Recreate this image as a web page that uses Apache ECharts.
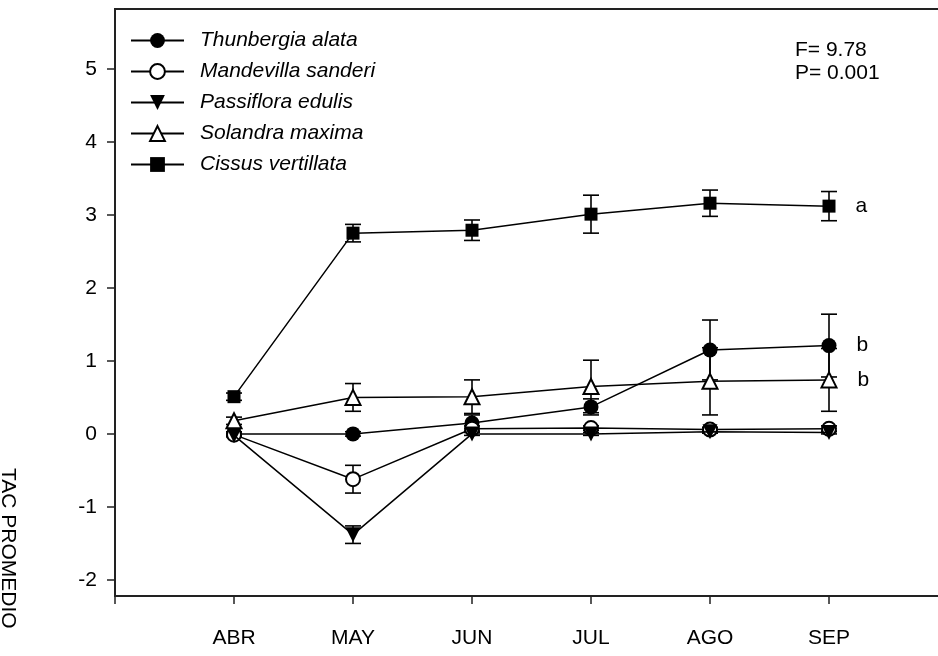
<!DOCTYPE html>
<html>
<head>
<meta charset="utf-8">
<script src="https://cdn.jsdelivr.net/npm/echarts@6/dist/echarts.min.js"></script>
<style>html,body{margin:0;padding:0;background:#fff}#c{width:938px;height:656px}</style>
</head>
<body>
<div id="c"></div>
<script>
const months = ['ABR','MAY','JUN','JUL','AGO','SEP'];
const yTicks = [-2,-1,0,1,2,3,4,5];
const names = ['Thunbergia alata','Mandevilla sanderi','Passiflora edulis','Solandra maxima','Cissus vertillata'];
const thunbergia = [0.00, 0.00, 0.15, 0.37, 1.15, 1.21];
const thunbergiaErr = [0.03, 0.03, 0.11, 0.11, 0.41, 0.43];
const mandevilla = [-0.01, -0.62, 0.07, 0.08, 0.06, 0.07];
const mandevillaErr = [0.02, 0.19, 0.04, 0.03, 0.03, 0.04];
const passiflora = [-0.02, -1.38, 0.00, 0.00, 0.03, 0.02];
const passifloraErr = [0.02, 0.12, 0.02, 0.02, 0.02, 0.02];
const solandra = [0.18, 0.50, 0.51, 0.65, 0.72, 0.74];
const solandraErr = [0.05, 0.19, 0.23, 0.36, 0.46, 0.43];
const cissus = [0.51, 2.75, 2.79, 3.01, 3.16, 3.12];
const cissusErr = [0.05, 0.12, 0.14, 0.26, 0.18, 0.20];
const groupLetters = {'Thunbergia alata':'b','Solandra maxima':'b','Cissus vertillata':'a'};
const statsText = ['F= 9.78','P= 0.001'];
const yAxisTitle = 'TAC PROMEDIO';

const allVals = [thunbergia, mandevilla, passiflora, solandra, cissus];
const allErr = [thunbergiaErr, mandevillaErr, passifloraErr, solandraErr, cissusErr];
const symbols = [
  {symbol:'circle', size:15, rotate:0, empty:false},
  {symbol:'emptyCircle', size:14, rotate:0, empty:true},
  {symbol:'triangle', size:15, rotate:180, empty:false},
  {symbol:'emptyTriangle', size:15, rotate:0, empty:true},
  {symbol:'rect', size:13, rotate:0, empty:false}
];

const chart = echarts.init(document.getElementById('c'), null, {renderer:'canvas'});
const FONT = '"Liberation Sans", Arial, sans-serif';

function errSeries(vals, errs, idx){
  return {
    type:'custom', name:'err'+idx, z:2, silent:true,
    data: vals.map((v,i)=>[i+1, v-errs[i], v+errs[i]]),
    renderItem: function(params, api){
      const x = api.value(0);
      const lo = api.coord([x, api.value(1)]);
      const hi = api.coord([x, api.value(2)]);
      const hw = 8;
      const st = {stroke:'#000', lineWidth:1.6};
      return {type:'group', children:[
        {type:'line', shape:{x1:lo[0], y1:lo[1], x2:hi[0], y2:hi[1]}, style:st},
        {type:'line', shape:{x1:lo[0]-hw, y1:lo[1], x2:lo[0]+hw, y2:lo[1]}, style:st},
        {type:'line', shape:{x1:hi[0]-hw, y1:hi[1], x2:hi[0]+hw, y2:hi[1]}, style:st}
      ]};
    }
  };
}

const series = [];
names.forEach((n, k)=>{
  series.push(errSeries(allVals[k], allErr[k], k));
});
names.forEach((n, k)=>{
  const s = symbols[k];
  const letter = groupLetters[n];
  series.push({
    type:'line', name:n, z:5+k,
    symbol:s.symbol, symbolSize:s.size, symbolRotate:s.rotate,
    showAllSymbol:true,
    lineStyle:{color:'#000', width:1.5},
    itemStyle:{color:'#000', borderColor:'#000', borderWidth: s.empty ? 1.6 : 0},
    data: allVals[k].map((v,i)=>{
      const d = {value:[i+1, v]};
      if (letter && i === allVals[k].length-1) {
        d.label = {show:true, position:'right', distance:20, formatter:letter,
          color:'#000', fontSize:21, fontFamily:FONT};
      }
      return d;
    }),
    emphasis:{disabled:true}
  });
});

chart.setOption({
  animation:false,
  backgroundColor:'#fff',
  grid:{left:115, top:9, right:-10, bottom:60, show:true, borderColor:'#222', borderWidth:2, outerBoundsMode:'none', containLabel:false},
  legend:{
    data:names, orient:'vertical', left:130, top:30, padding:0, itemWidth:53, itemHeight:18.5, itemGap:10,
    textStyle:{fontSize:21, fontStyle:'italic', fontFamily:FONT, color:'#000', lineHeight:21, padding:[0,0,0,11]},
    selectedMode:false
  },
  xAxis:{
    type:'value', min:0, max:7, interval:1,
    axisLine:{show:true, onZero:false, lineStyle:{color:'#222', width:2}},
    axisTick:{show:true, length:8, lineStyle:{color:'#222', width:1.5}},
    axisLabel:{margin:32, fontSize:21, fontFamily:FONT, color:'#000',
      formatter:v=>months[v-1]||''},
    splitLine:{show:false}
  },
  yAxis:{
    type:'value', min:-2.22, max:5.82,
    axisLine:{show:true, onZero:false, lineStyle:{color:'#222', width:2}},
    axisTick:{show:true, length:8, customValues:yTicks, lineStyle:{color:'#222', width:1.5}},
    axisLabel:{margin:18, fontSize:21, fontFamily:FONT, color:'#000', customValues:yTicks},
    splitLine:{show:false}
  },
  graphic:[
    {type:'text', left:795, top:39, style:{text:statsText.join('\n'), fontSize:21, lineHeight:23, fontFamily:FONT, fill:'#000'}},
    {type:'text', x:8, y:468, rotation:-Math.PI/2, style:{text:yAxisTitle, fontSize:21, fontFamily:FONT, fill:'#000', textVerticalAlign:'middle'}}
  ],
  series:series
});
</script>
</body>
</html>
